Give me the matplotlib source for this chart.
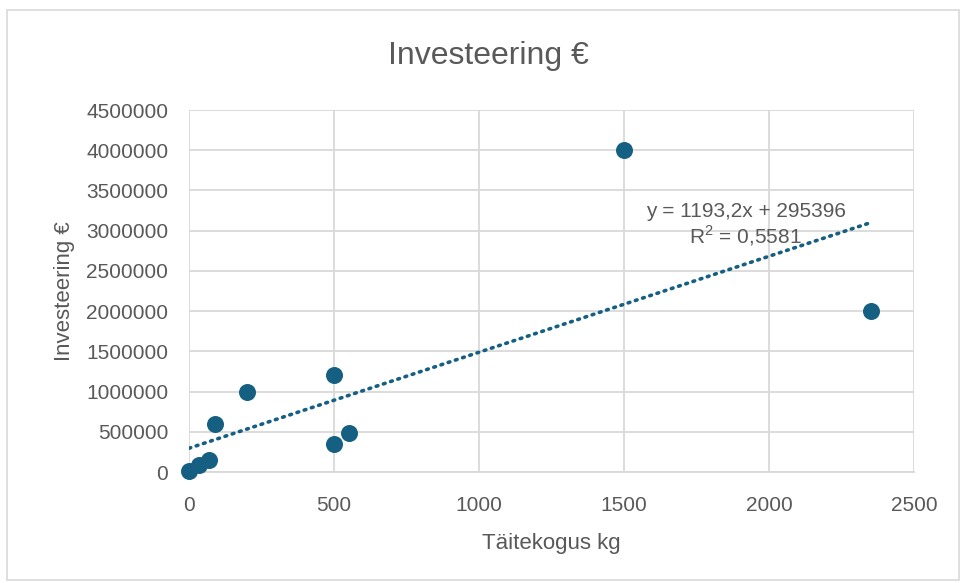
import numpy as np
import matplotlib.pyplot as plt
from matplotlib.patches import Rectangle
from matplotlib.ticker import FuncFormatter

# data
taitekogus = [0, 35, 70, 90, 200, 500, 500, 550, 1500, 2350]
investeering = [10000, 90000, 150000, 600000, 1000000, 1200000, 350000, 480000, 4000000, 2000000]
trend_slope = 1193.2
trend_intercept = 295396
trend_label = "y = 1193,2x + 295396\nR$^2$ = 0,5581"

x_ticks = [0, 500, 1000, 1500, 2000, 2500]
y_ticks = list(range(0, 4500001, 500000))

plt.rcParams['font.family'] = ['Liberation Sans', 'DejaVu Sans']
plt.rcParams['mathtext.fontset'] = 'custom'
plt.rcParams['mathtext.rm'] = 'Liberation Sans'
text_col = '#595959'
grid_col = '#d9d9d9'
dot_col = '#156082'

fig = plt.figure(figsize=(9.6, 5.83), dpi=100)
ax = fig.add_axes([189 / 960, 1 - 472 / 583, (914 - 189) / 960, (472 - 110) / 583])

# outer chart border
fig.patches.append(Rectangle((7 / 960, 3 / 583), 952 / 960, 570 / 583, transform=fig.transFigure,
                             fill=False, edgecolor=grid_col, linewidth=1.2))

ax.scatter(taitekogus, investeering, s=150, color=dot_col, zorder=3, linewidths=0, clip_on=False)

xs = np.array([0, max(taitekogus)])
ax.plot(xs, trend_slope * xs + trend_intercept, linestyle=(0, (0.5, 1.6)), dash_capstyle='round',
        color=dot_col, linewidth=2.6, zorder=2)

ax.text(1920, 3070000, trend_label, ha='center', va='center', fontsize=15, color=text_col,
        linespacing=1.1)

ax.set_xlim(0, 2500)
ax.set_ylim(0, 4500000)
ax.set_xticks(x_ticks)
ax.set_yticks(y_ticks)
ax.yaxis.set_major_formatter(FuncFormatter(lambda v, p: f'{int(v)}'))
ax.grid(True, color=grid_col, linewidth=1.3)
ax.set_axisbelow(True)
for s in ['top', 'right', 'left']:
    ax.spines[s].set_visible(False)
ax.spines['bottom'].set_color(grid_col)
ax.spines['bottom'].set_linewidth(1.3)
ax.tick_params(length=0, labelsize=15, colors=text_col)
ax.tick_params(axis='y', pad=15)
ax.tick_params(axis='x', pad=17)

ax.set_xlabel('Täitekogus kg', fontsize=16, color=text_col, labelpad=13)
ax.set_ylabel('Investeering €', fontsize=16, color=text_col, labelpad=8)
fig.text(488 / 960, 1 - 56 / 583, 'Investeering €', ha='center', va='center', fontsize=23,
         color=text_col)

fig.savefig('out.png', dpi=100)
